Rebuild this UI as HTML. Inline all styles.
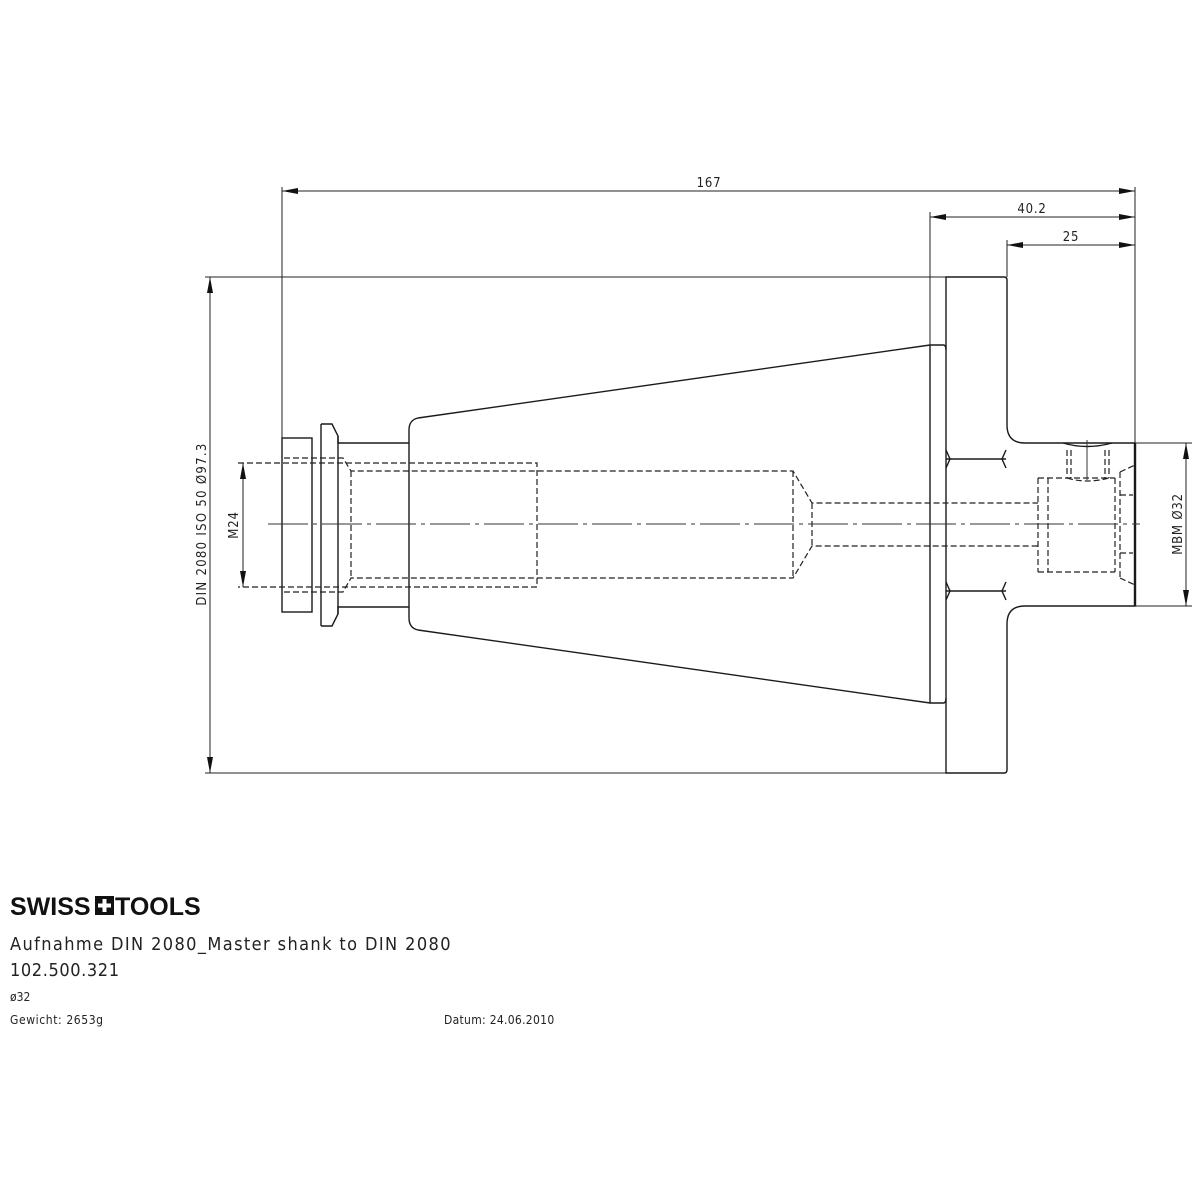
<!DOCTYPE html>
<html><head><meta charset="utf-8"><style>
html,body{margin:0;padding:0;background:#fff}
svg{display:block}
.t{font-family:"DejaVu Sans Condensed","Liberation Sans",sans-serif;fill:#222}
</style></head><body>
<svg width="1200" height="1200" viewBox="0 0 1200 1200" xmlns="http://www.w3.org/2000/svg">
<defs>
<marker id="a" viewBox="0 0 16 6" refX="16" refY="3" markerWidth="16" markerHeight="6" orient="auto-start-reverse" markerUnits="userSpaceOnUse"><path d="M0,0L16,3L0,6z" fill="#111"/></marker>
</defs>
<g fill="none" stroke="#1a1a1a" stroke-width="1.4">
<rect x="282" y="438" width="30" height="174"/>
<path d="M321,424 H332 L338,436 V443 H409 M321,626 H332 L338,614 V607 H409"/>
<path d="M321,424 V626 M338,436 V614"/>
<path d="M409,430 Q409,420 418,418 L930,345 L944,345 Q946,346 946,350"/>
<path d="M409,618 Q409,628 418,630 L930,703 L944,703 Q946,702 946,698"/>
<path d="M409,430 V618"/>
<path d="M930,345 V703"/>
<path d="M946,277 H1004 Q1007,277 1007,280 V425 Q1007,443 1025,443 H1135 V606 H1025 Q1007,606 1007,624 V770 Q1007,773 1004,773 H946 Z"/>
<path d="M946,459 H1006 M946,591 H1006"/>
<path d="M946,450 L950,459 L946,468 M1006,450 L1002,459 L1006,468 M946,582 L950,591 L946,600 M1006,582 L1002,591 L1006,600"/>
<path d="M1135,443 V606" stroke-width="2.4"/>
<path d="M1063,443 Q1087,450 1112,443"/>
</g>
<g fill="none" stroke="#222" stroke-width="1.2" stroke-dasharray="6,3">
<path d="M284,458 H343 L351,471 H793 L812,503 H1038"/>
<path d="M284,592 H343 L351,578 H793 L812,546 H1038"/>
<path d="M351,471 V578 M793,471 V578 M812,503 V546"/>
<path d="M238,463 H537 V587 H238"/>
<path d="M1038,478 H1115 M1038,572 H1115 M1038,478 V572 M1048,478 V572"/>
<path d="M1115,478 V572 M1120,472 V578 M1120,472 L1135,465 M1120,578 L1135,585 M1120,495 H1133 M1120,553 H1133"/>
<path d="M1067,450 V478 M1071,450 V478 M1105,450 V478 M1109,450 V478 M1067,478 Q1087,484 1109,478"/>
</g>
<g stroke="#333" stroke-width="1" fill="none" stroke-dasharray="40,5,4,5">
<path d="M268,524 H1140"/>
<path d="M1087,440 V484"/>
</g>
<g stroke="#222" stroke-width="1" fill="none">
<path d="M282,187 V438 M1135,187 V443 M930,212 V345 M1007,240 V277"/>
<path d="M282,191 H1135" marker-start="url(#a)" marker-end="url(#a)"/>
<path d="M930,217 H1135" marker-start="url(#a)" marker-end="url(#a)"/>
<path d="M1007,245 H1135" marker-start="url(#a)" marker-end="url(#a)"/>
<path d="M205,277 H946 M205,773 H946"/>
<path d="M210,277 V773" marker-start="url(#a)" marker-end="url(#a)"/>
<path d="M243,463 V587" marker-start="url(#a)" marker-end="url(#a)"/>
<path d="M1135,443 H1192 M1135,606 H1192"/>
<path d="M1186,443 V606" marker-start="url(#a)" marker-end="url(#a)"/>
</g>
<g class="t" font-size="13" letter-spacing="0.8">
<text x="709" y="187" text-anchor="middle">167</text>
<text x="1032" y="213" text-anchor="middle">40.2</text>
<text x="1071" y="241" text-anchor="middle">25</text>
<text transform="translate(206,524) rotate(-90)" text-anchor="middle" letter-spacing="1.3">DIN 2080 ISO 50  Ø97.3</text>
<text transform="translate(238,525) rotate(-90)" text-anchor="middle">M24</text>
<text transform="translate(1182,524) rotate(-90)" text-anchor="middle">MBM  Ø32</text>
</g>
<text x="10" y="915" font-family="Liberation Sans,sans-serif" font-weight="bold" font-size="25" fill="#111">SWISS</text>
<rect x="95" y="896" width="19" height="19" fill="#111"/>
<path d="M104.5,899 V912 M98,905.5 H111" stroke="#fff" stroke-width="4"/>
<text x="115" y="915" font-family="Liberation Sans,sans-serif" font-weight="bold" font-size="25" fill="#111">TOOLS</text>
<g class="t">
<text x="10" y="950" font-size="18" letter-spacing="1.4">Aufnahme DIN 2080_Master shank to DIN 2080</text>
<text x="10" y="976" font-size="18" letter-spacing="0.6">102.500.321</text>
<text x="10" y="1001" font-size="12">ø32</text>
<text x="10" y="1024" font-size="12" letter-spacing="0.6">Gewicht: 2653g</text>
<text x="444" y="1024" font-size="12" letter-spacing="0.3">Datum: 24.06.2010</text>
</g>
</svg>
</body></html>
